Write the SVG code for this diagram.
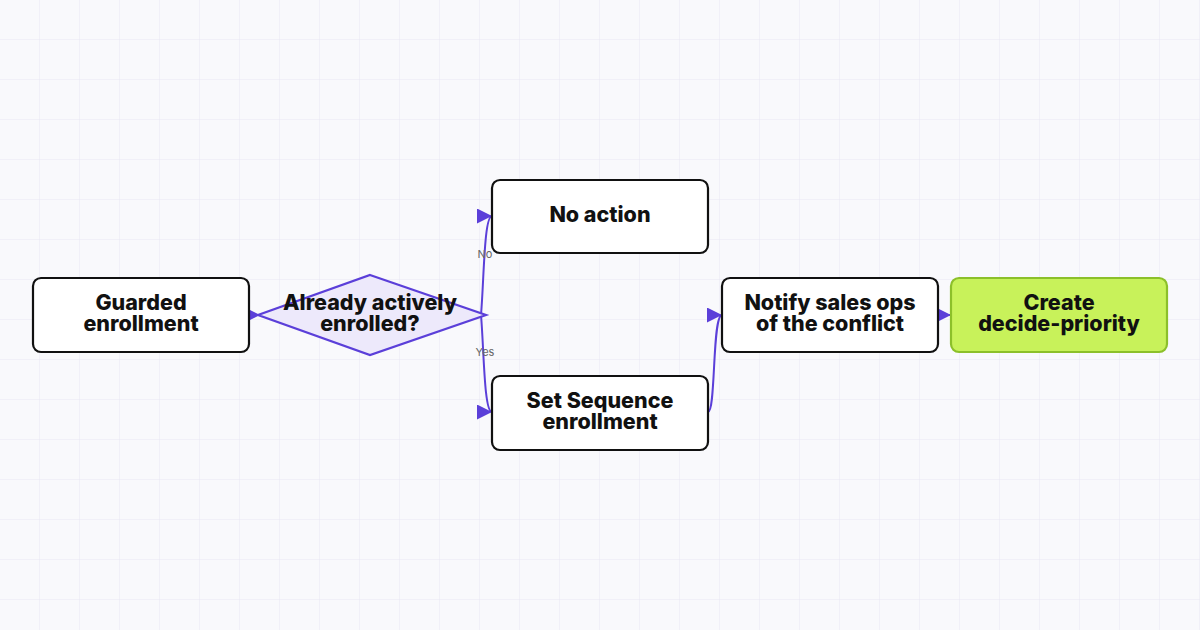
<svg xmlns="http://www.w3.org/2000/svg" width="1200" height="630" viewBox="0 0 1200 630">
<defs>
<pattern id="grid" width="40" height="40" patternUnits="userSpaceOnUse"><path d="M40 0V40M0 40H40" fill="none" stroke="#e9e7f5" stroke-width="1"/></pattern>
<marker id="a" viewBox="0 0 10 10" refX="10" refY="5" markerWidth="15" markerHeight="15" markerUnits="userSpaceOnUse" orient="auto"><path d="M0 0L10 5L0 10z" fill="#5b3fd9"/></marker>
</defs>
<style>
.n{fill:#fff;stroke:#111;stroke-width:2.2}
.t{font-family:Inter,"Liberation Sans",sans-serif;font-weight:800;font-size:21.5px;fill:#111;text-anchor:middle}
.e{fill:none;stroke:#5b3fd9;stroke-width:2}
.l{font-family:Inter,"Liberation Sans",sans-serif;font-size:11px;fill:#666;text-anchor:middle}
</style>
<rect width="1200" height="630" fill="#f9f9fc"/>
<rect width="1200" height="630" fill="url(#grid)"/>
<g id="connectors">
<path class="e" d="M244 315H260" marker-end="url(#a)"/>
<path class="e" d="M481 315C484 280 484 216 492 216" marker-end="url(#a)"/>
<path class="e" d="M481 315C484 350 484 412 492 412" marker-end="url(#a)"/>
<path class="e" d="M708 412C716 412 712 315 722 315" marker-end="url(#a)"/>
<path class="e" d="M938 315H951" marker-end="url(#a)"/>
<text class="l" x="485" y="258">No</text>
<text class="l" x="485" y="356">Yes</text>
</g>
<g id="guarded"><rect class="n" x="33" y="278" width="216" height="74" rx="8"/><text class="t" x="141" y="310">Guarded</text><text class="t" x="141" y="331">enrollment</text></g>
<g id="decision"><path d="M370 275L486 315L370 355L258 315Z" fill="#ede9fb" stroke="#5b3fd9" stroke-width="2.2"/><text class="t" x="370" y="310">Already actively</text><text class="t" x="370" y="331">enrolled?</text></g>
<g id="noaction"><rect class="n" x="492" y="180" width="216" height="73" rx="8"/><text class="t" x="600" y="222">No action</text></g>
<g id="setseq"><rect class="n" x="492" y="376" width="216" height="74" rx="8"/><text class="t" x="600" y="408">Set Sequence</text><text class="t" x="600" y="429">enrollment</text></g>
<g id="notify"><rect class="n" x="722" y="278" width="216" height="74" rx="8"/><text class="t" x="830" y="310">Notify sales ops</text><text class="t" x="830" y="331">of the conflict</text></g>
<g id="create"><rect x="951" y="278" width="216" height="74" rx="8" fill="#c8f25a" stroke="#8cc02a" stroke-width="2.2"/><text class="t" x="1059" y="310">Create</text><text class="t" x="1059" y="331">decide-priority</text></g>
</svg>
